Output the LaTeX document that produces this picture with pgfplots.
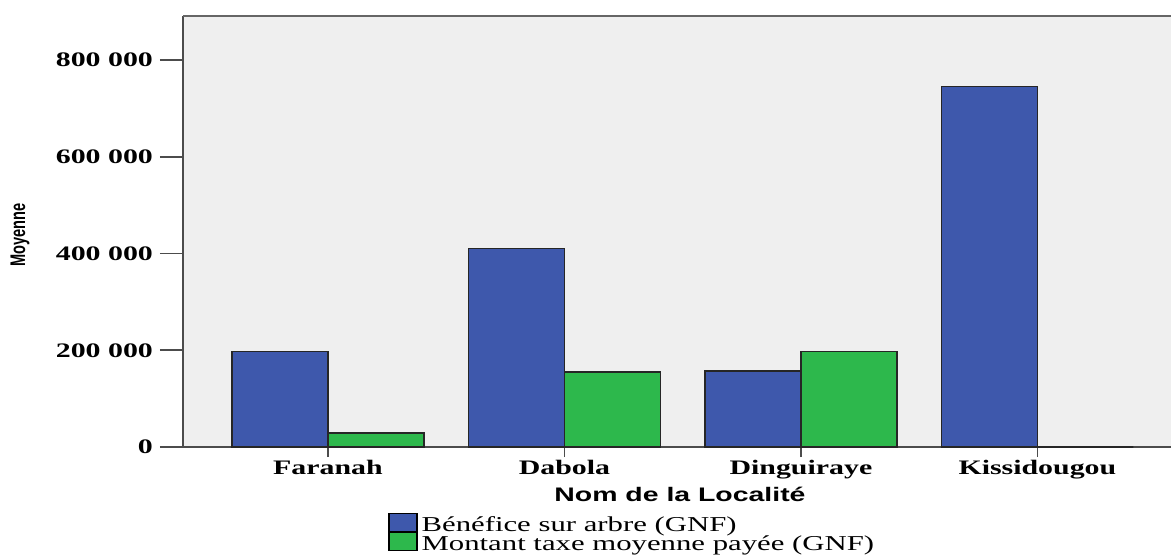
\documentclass[border=0pt]{standalone}
\usepackage{fontspec}
\setmainfont{Liberation Serif}[FakeStretch=1.45]
\newfontfamily\labfont{Liberation Sans}[FakeStretch=1.45]
\newfontfamily\ylabfont{Liberation Sans}
\usepackage{pgfplots}
\pgfplotsset{compat=1.18}
\definecolor{bblue}{HTML}{3E58AC}
\definecolor{bgreen}{HTML}{2DB84C}
\definecolor{bgc}{HTML}{EFEFEF}
\begin{document}
\begin{tikzpicture}[x=1pt,y=1pt]
\useasboundingbox (0,0) rectangle (585.5,278.5);
\begin{axis}[
  at={(91.5pt,55pt)}, anchor=south west,
  scale only axis, width=494pt, height=215.5pt,
  xmin=-0.613, xmax=3.565, ymin=0, ymax=891000,
  axis lines*=left,
  axis background/.style={fill=bgc},
  axis line style={draw=black!70, line width=0.9pt},
  ytick={0,200000,400000,600000,800000},
  xtick={0,1,2,3},
  xticklabels={Faranah,Dabola,Dinguiraye,Kissidougou},
  tick align=outside, major tick length=11.5pt,
  xtick style={/pgfplots/major tick length=5pt},
  tick style={black!70, line width=0.9pt},
  scaled y ticks=false,
  /pgf/number format/.cd, fixed, precision=0, 1000 sep={\ }, assume math mode=true,
  /pgfplots/.cd,
  ticklabel style={font=\fontsize{10.3}{12}\selectfont\bfseries},
  xticklabel style={yshift=8.5pt},
  ybar, bar width=0.406,
  xlabel={Nom de la Localité},
  xlabel style={at={(axis description cs:0.503,-0.109)}, anchor=center, font=\labfont\fontsize{9.8}{11}\selectfont\bfseries},
  ylabel={\scalebox{1}[1.45]{\ylabfont\fontsize{7.3}{8}\selectfont\bfseries Moyenne}},
  ylabel style={at={(axis description cs:-0.165,0.492)}, anchor=center},
  legend style={at={(axis description cs:0.2075,-0.152)}, anchor=north west, draw=none, fill=none, inner sep=0pt, row sep=-3.5pt, font=\fontsize{10.6}{12}\selectfont, cells={anchor=west}},
  legend image code/.code={\draw[#1, draw=black, line width=0.6pt] (0pt,-3pt) rectangle (14pt,6pt);},
]
\addplot[fill=bblue, draw=black!85, line width=0.6pt, bar shift=-0.203] coordinates {(0,198000) (1,411000) (2,157000) (3,746000)};
\addplot[fill=bgreen, draw=black!85, line width=0.6pt, bar shift=0.203] coordinates {(0,29000) (1,155000) (2,198000) (3,0)};
\legend{Bénéfice sur arbre (GNF), Montant taxe moyenne payée (GNF)}
\draw[black!60, line width=0.9pt] (rel axis cs:0,1) -- (rel axis cs:1,1);
\end{axis}
\end{tikzpicture}
\end{document}
